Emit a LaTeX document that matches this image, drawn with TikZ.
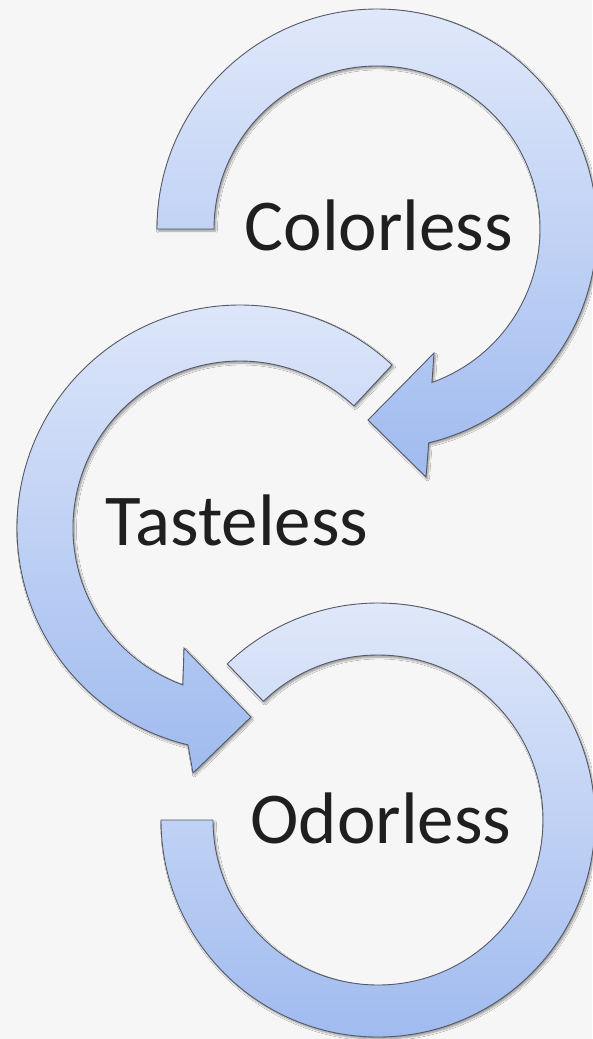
\documentclass[tikz,border=0pt]{standalone}
\usepackage{fontspec}
\setmainfont{Carlito}
\usetikzlibrary{calc,shadows.blur}
\definecolor{bgc}{HTML}{F6F6F6}
\definecolor{toplight}{HTML}{E0E8FA}
\definecolor{botdark}{HTML}{A0BBEF}
\definecolor{edgec}{HTML}{555A66}
\tikzset{
  arrowshape/.style={draw=edgec, line width=0.9pt, line join=miter,
    top color=toplight, bottom color=botdark,
    blur shadow={shadow xshift=1.5pt, shadow yshift=-2pt, shadow blur steps=6, shadow opacity=40}},
  lbl/.style={font=\fontsize{73}{80}\selectfont, text=black!88, anchor=base, inner sep=0pt}
}
\begin{document}
\begin{tikzpicture}[x=1pt,y=-1pt]
\fill[bgc] (0,0) rectangle (592,1039);
\useasboundingbox (0,0) rectangle (592,1039);
\coordinate (c1) at (377,229);
\coordinate (c2) at (240,528);
\coordinate (c3) at (378,820);
% arrow 3 (Odorless), no head
\path[arrowshape] ($(c3)+(180:217)$) arc[start angle=180, end angle=-134, radius=217]
  -- ($(c3)+(-134:165)$) arc[start angle=-134, end angle=180, radius=165] -- cycle;
% arrow 2 (Tasteless)
\path[arrowshape] ($(c2)+(-47:223)$) arc[start angle=-47, end angle=-256.5, radius=223]
  -- (193,773) -- (251,717) -- (184,648)
  -- ($(c2)+(-250:167)$) arc[start angle=-250, end angle=-47, radius=167] -- cycle;
% arrow 1 (Colorless)
\path[arrowshape] ($(c1)+(180:220)$) arc[start angle=180, end angle=436.4, radius=220]
  -- (426,477) -- (368,420) -- (434,353)
  -- ($(c1)+(430.3:163)$) arc[start angle=430.3, end angle=180, radius=163] -- cycle;
\node[lbl] (t1) at (379,250) {Colorless};
\node[lbl] (t2) at (237,545) {Tasteless};
\node[lbl] (t3) at (381,843) {Odorless};
\end{tikzpicture}
\end{document}
